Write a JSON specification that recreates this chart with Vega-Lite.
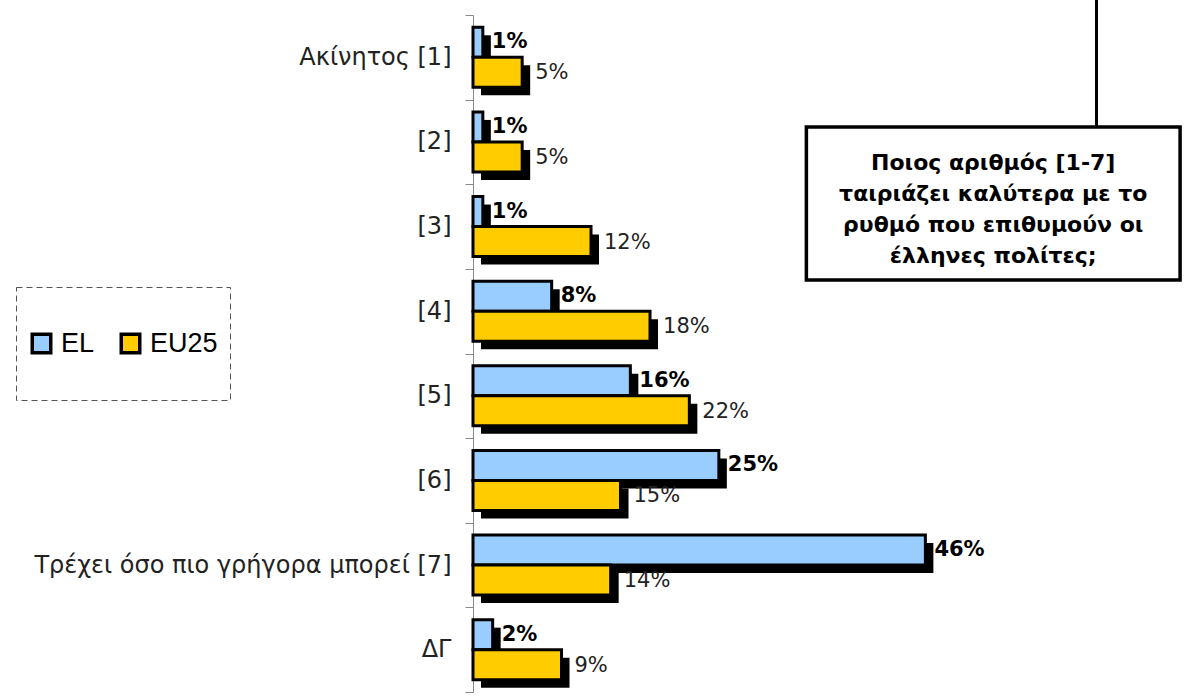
{
  "$schema": "https://vega.github.io/schema/vega-lite/v6.json",
  "width": 712,
  "height": 677,
  "autosize": {"type": "none"},
  "padding": {"left": 473, "top": 15, "right": 0, "bottom": 6},
  "background": "white",
  "config": {
    "view": {"stroke": null},
    "font": "DejaVu Sans",
    "legend": {"strokeDash": [6, 4], "strokeWidth": 1, "strokeColor": "#555555", "fillColor": "white", "padding": 12}
  },
  "layer": [
    {
      "data": {
        "values": [
          {"category": "Ακίνητος [1]", "series": "EL", "value": 0.01},
          {"category": "Ακίνητος [1]", "series": "EU25", "value": 0.05},
          {"category": "[2]", "series": "EL", "value": 0.01},
          {"category": "[2]", "series": "EU25", "value": 0.05},
          {"category": "[3]", "series": "EL", "value": 0.01},
          {"category": "[3]", "series": "EU25", "value": 0.12},
          {"category": "[4]", "series": "EL", "value": 0.08},
          {"category": "[4]", "series": "EU25", "value": 0.18},
          {"category": "[5]", "series": "EL", "value": 0.16},
          {"category": "[5]", "series": "EU25", "value": 0.22},
          {"category": "[6]", "series": "EL", "value": 0.25},
          {"category": "[6]", "series": "EU25", "value": 0.15},
          {"category": "Τρέχει όσο πιο γρήγορα μπορεί [7]", "series": "EL", "value": 0.46},
          {"category": "Τρέχει όσο πιο γρήγορα μπορεί [7]", "series": "EU25", "value": 0.14},
          {"category": "ΔΓ", "series": "EL", "value": 0.02},
          {"category": "ΔΓ", "series": "EU25", "value": 0.09}
        ]
      },
      "encoding": {
        "y": {
          "field": "category", "type": "nominal", "sort": null,
          "scale": {"paddingInner": 0, "paddingOuter": 0},
          "axis": {
            "title": null, "domainColor": "#888888", "tickColor": "#888888",
            "tickSize": 8, "tickBand": "extent", "labelFontSize": 24,
            "labelColor": "#222222", "labelPadding": 14, "labelFont": "DejaVu Sans",
            "labelLimit": 0, "grid": false
          }
        },
        "x": {
          "field": "value", "type": "quantitative",
          "scale": {"domain": [0, 0.724], "nice": false},
          "axis": null
        }
      },
      "layer": [
        {
          "mark": {"type": "bar", "fill": "black", "xOffset": 8, "x2Offset": 8},
          "encoding": {
            "yOffset": {
              "field": "series", "type": "nominal", "sort": ["EL", "EU25"],
              "scale": {"paddingInner": 0, "paddingOuter": 0.41, "align": 0.825}
            }
          }
        },
        {
          "mark": {"type": "bar", "stroke": "black", "strokeWidth": 3},
          "encoding": {
            "yOffset": {
              "field": "series", "type": "nominal", "sort": ["EL", "EU25"],
              "scale": {"paddingInner": 0, "paddingOuter": 0.41}
            },
            "color": {
              "field": "series", "type": "nominal",
              "scale": {"domain": ["EL", "EU25"], "range": ["#99CCFF", "#FFCC00"]},
              "legend": {
                "title": null, "orient": "none", "legendX": -457, "legendY": 272,
                "direction": "horizontal", "clipHeight": 89,
                "labelFont": "Liberation Sans", "labelFontSize": 27,
                "labelColor": "black", "symbolType": "square", "symbolSize": 342,
                "symbolStrokeColor": "black", "symbolStrokeWidth": 3.5,
                "labelOffset": 6, "columnPadding": 22
              }
            }
          }
        },
        {
          "transform": [{"filter": "datum.series === 'EL'"}],
          "mark": {"type": "text", "align": "left", "baseline": "middle", "dx": 9, "fontWeight": "bold", "fontSize": 21, "color": "black"},
          "encoding": {
            "yOffset": {
              "field": "series", "type": "nominal", "sort": ["EL", "EU25"],
              "scale": {"domain": ["EL", "EU25"], "padding": 0.91}
            },
            "text": {"field": "value", "type": "quantitative", "format": ".0%"}
          }
        },
        {
          "transform": [{"filter": "datum.series === 'EU25'"}],
          "mark": {"type": "text", "align": "left", "baseline": "middle", "dx": 13, "dy": 1, "fontSize": 21, "color": "#222222"},
          "encoding": {
            "yOffset": {
              "field": "series", "type": "nominal", "sort": ["EL", "EU25"],
              "scale": {"domain": ["EL", "EU25"], "padding": 0.91}
            },
            "text": {"field": "value", "type": "quantitative", "format": ".0%"}
          }
        }
      ],
      "resolve": {"scale": {"yOffset": "independent"}}
    },
    {
      "data": {"values": [{"note": "Ποιος αριθμός [1-7]|ταιριάζει καλύτερα με το|ρυθμό που επιθυμούν οι|έλληνες πολίτες;"}]},
      "layer": [
        {
          "mark": {"type": "rule", "strokeWidth": 3, "color": "black"},
          "encoding": {
            "x": {"datum": 0.634, "type": "quantitative", "axis": null},
            "y": {"datum": -0.18, "type": "quantitative", "scale": {"domain": [0, 8], "reverse": true, "nice": false, "zero": false}, "axis": null},
            "y2": {"datum": 1.33}
          }
        },
        {
          "mark": {"type": "rect", "fill": "white", "stroke": "black", "strokeWidth": 3.5},
          "encoding": {
            "x": {"datum": 0.339, "type": "quantitative", "axis": null},
            "x2": {"datum": 0.719},
            "y": {"datum": 1.323, "type": "quantitative", "axis": null},
            "y2": {"datum": 3.13}
          }
        },
        {
          "mark": {"type": "text", "align": "center", "baseline": "middle", "fontSize": 22, "fontWeight": "bold", "lineHeight": 31, "lineBreak": "|", "color": "black"},
          "encoding": {
            "x": {"datum": 0.529, "type": "quantitative", "axis": null},
            "y": {"datum": 1.75, "type": "quantitative", "axis": null},
            "text": {"field": "note", "type": "nominal"}
          }
        }
      ]
    }
  ],
  "resolve": {"scale": {"y": "independent"}}
}
